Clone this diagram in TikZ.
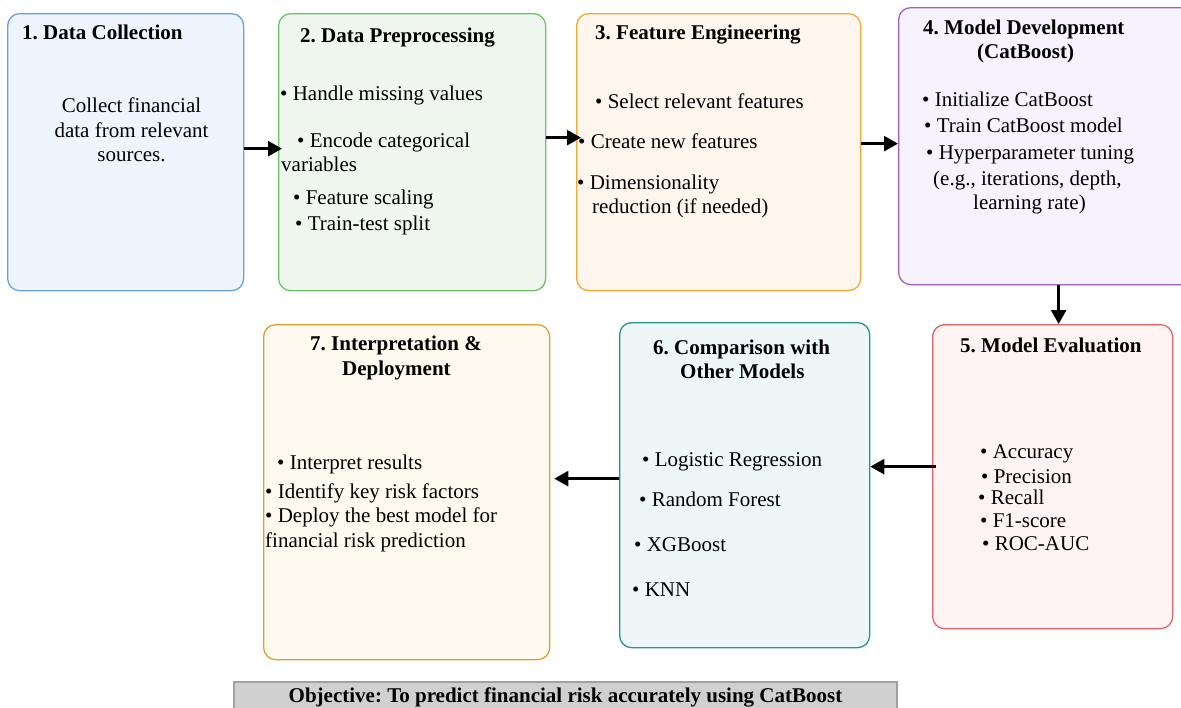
\documentclass[tikz,border=0pt]{standalone}
\usepackage{fontspec}
\setmainfont{Liberation Serif}
\usetikzlibrary{arrows.meta}
\frenchspacing
\newcommand\myfs{\fontsize{21pt}{24pt}\selectfont}
\definecolor{bdA}{HTML}{6A9FE0}\definecolor{flA}{HTML}{EEF5FF}
\definecolor{bdB}{HTML}{6CC06A}\definecolor{flB}{HTML}{EFF7EF}
\definecolor{bdC}{HTML}{F5A830}\definecolor{flC}{HTML}{FFF7EE}
\definecolor{bdD}{HTML}{A060C8}\definecolor{flD}{HTML}{F6F2FE}
\definecolor{bdE}{HTML}{E86262}\definecolor{flE}{HTML}{FFF3F3}
\definecolor{bdF}{HTML}{2A9090}\definecolor{flF}{HTML}{EEF7F8}
\definecolor{bdG}{HTML}{E0A030}\definecolor{flG}{HTML}{FFFAEF}
\definecolor{bnF}{HTML}{D0D0D0}\definecolor{bnB}{HTML}{A0A0A0}
\tikzset{
  box/.style={rectangle, rounded corners=12pt, line width=1.3pt, anchor=north west, inner sep=0pt},
  ln/.style={anchor=base west, inner sep=0pt, font=\myfs},
  lc/.style={anchor=base, inner sep=0pt, font=\myfs},
  tl/.style={anchor=base west, inner sep=0pt, font=\myfs\bfseries},
  arr/.style={line width=2.5pt, -{Triangle[length=14pt,width=15pt]}}
}
\begin{document}
\begin{tikzpicture}[x=1pt,y=-1pt]
\useasboundingbox (0,0) rectangle (1181,707);
\clip (0,0) rectangle (1181,707);
% boxes
\node[box, draw=bdA, fill=flA, minimum width=236pt, minimum height=277pt] (b1) at (7,13) {};
\node[box, draw=bdB, fill=flB, minimum width=267pt, minimum height=277pt] (b2) at (278,13) {};
\node[box, draw=bdC, fill=flC, minimum width=284pt, minimum height=277pt] (b3) at (576,13) {};
\node[box, draw=bdD, fill=flD, minimum width=297pt, minimum height=277pt] (b4) at (898,7) {};
\node[box, draw=bdE, fill=flE, minimum width=240pt, minimum height=304pt] (b5) at (932,324) {};
\node[box, draw=bdF, fill=flF, minimum width=250pt, minimum height=325pt] (b6) at (619,322) {};
\node[box, draw=bdG, fill=flG, minimum width=286pt, minimum height=335pt] (b7) at (263,324) {};
\node[rectangle, draw=bnB, fill=bnF, line width=1.3pt, minimum width=663pt, minimum height=30pt, inner sep=0pt, font=\myfs\bfseries] (obj) at (565.5,697) {Objective: To predict financial risk accurately using CatBoost};
% box 1
\node[tl] (t1) at (22,39) {1. Data Collection};
\node[lc] (t1a) at (131.5,112) {Collect financial};
\node[lc] (t1b) at (131.5,137) {data from relevant};
\node[lc] (t1c) at (131.5,161) {sources.};
% box 2
\node[tl] (t2) at (300,42) {2. Data Preprocessing};
\node[ln] (t2a) at (280,100) {• Handle missing values};
\node[ln] (t2b) at (297,147) {• Encode categorical};
\node[ln] (t2c) at (281,171) {variables};
\node[ln] (t2d) at (293,204) {• Feature scaling};
\node[ln] (t2e) at (295,230) {• Train-test split};
% box 3
\node[tl] (t3) at (595,39) {3. Feature Engineering};
\node[ln] (t3a) at (595,108) {• Select relevant features};
\node[ln] (t3b) at (578,148) {• Create new features};
\node[ln] (t3c) at (577,189) {• Dimensionality};
\node[ln] (t3d) at (592,213) {reduction (if needed)};
% box 4
\node[tl] (t4) at (923,34) {4. Model Development};
\node[tl] (t4b) at (977,58) {(CatBoost)};
\node[ln] (t4c) at (922,106) {• Initialize CatBoost};
\node[ln] (t4d) at (924,132) {• Train CatBoost model};
\node[ln] (t4e) at (926,159) {• Hyperparameter tuning};
\node[ln] (t4f) at (933,185) {(e.g., iterations, depth,};
\node[ln] (t4g) at (973,209) {learning rate)};
% box 5
\node[tl] (t5) at (960,352) {5. Model Evaluation};
\node[ln] (t5a) at (980,458) {• Accuracy};
\node[ln] (t5b) at (981,483) {• Precision};
\node[ln] (t5c) at (978,504) {• Recall};
\node[ln] (t5d) at (980,527) {• F1-score};
\node[ln] (t5e) at (982,550) {• ROC-AUC};
% box 6
\node[tl] (t6) at (653,354) {6. Comparison with};
\node[tl] (t6b) at (680,378) {Other Models};
\node[ln] (t6c) at (642,466) {• Logistic Regression};
\node[ln] (t6d) at (639,506) {• Random Forest};
\node[ln] (t6e) at (634,551) {• XGBoost};
\node[ln] (t6f) at (632,596) {• KNN};
% box 7
\node[tl] (t7) at (310,350) {7. Interpretation \&};
\node[tl] (t7b) at (342,375) {Deployment};
\node[ln] (t7c) at (277,469) {• Interpret results};
\node[ln] (t7d) at (265,498) {• Identify key risk factors};
\node[ln] (t7e) at (265,522) {• Deploy the best model for};
\node[ln] (t7f) at (265,547) {financial risk prediction};
% arrows
\draw[arr] ([yshift=3.5pt]b1.east) -- ([yshift=3.5pt,xshift=4pt]b2.west);
\draw[arr] ([yshift=14.5pt]b2.east) -- ([yshift=14.5pt,xshift=5pt]b3.west);
\draw[arr] ([yshift=8.5pt]b3.east) -- ([yshift=2.5pt]b4.west);
\draw[arr] ([xshift=11.5pt]b4.south) -- ([xshift=6pt]b5.north);
\draw[arr] ([yshift=10pt,xshift=4pt]b5.west) -- ([yshift=18.5pt]b6.east);
\draw[arr] ([yshift=6.5pt]b6.west) -- ([yshift=13.5pt,xshift=4pt]b7.east);
\end{tikzpicture}
\end{document}
